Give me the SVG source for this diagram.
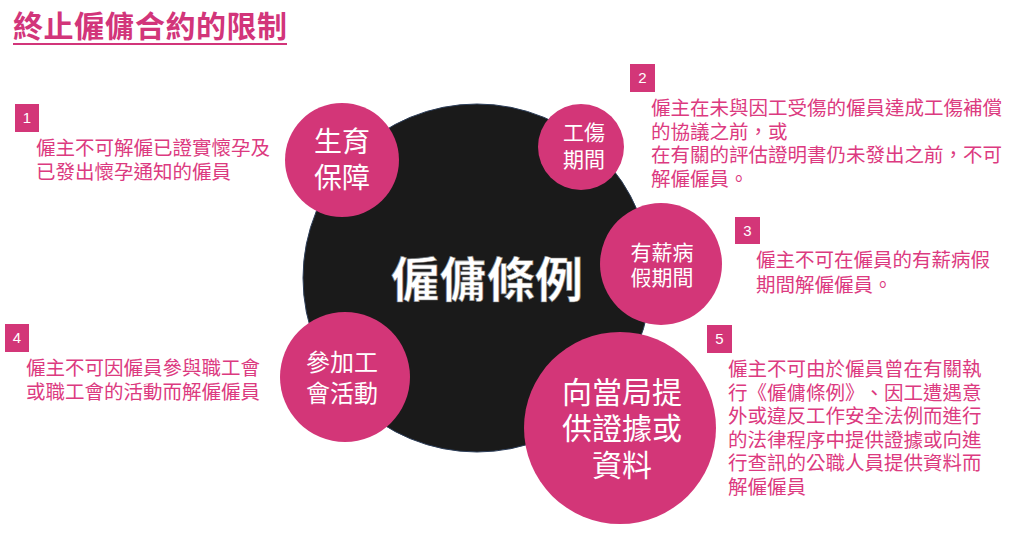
<svg xmlns="http://www.w3.org/2000/svg" width="1024" height="546" viewBox="0 0 1024 546">
<style>
.cj{font-family:"Noto Sans CJK TC","Noto Sans CJK SC",sans-serif;text-spacing-trim:space-all}
.desc{fill:#dc3a80;font-size:19.5px}
.bub{fill:#d33678}
.bt{fill:#ffffff;text-anchor:middle}
.box{fill:#d33678}
.num{fill:#ffffff;font-family:"Liberation Sans",sans-serif;font-size:15px;text-anchor:middle}
</style>
<rect width="1024" height="546" fill="#ffffff"/>
<g id="title">
<text x="13" y="37" class="cj" font-size="30" font-weight="bold" fill="#d2357a" textLength="274">終止僱傭合約的限制</text>
<rect x="13" y="43" width="274" height="2" fill="#d2357a"/>
</g>
<g id="center">
<circle cx="477" cy="278" r="174" fill="#1a1a1a" stroke="#2c3d58" stroke-width="1"/>
<text x="487" y="297" class="cj bt" font-size="48" font-weight="bold" stroke="#777" stroke-width="0.6">僱傭條例</text>
</g>
<g id="node1">
<circle cx="342" cy="160" r="57" class="bub"/>
<text x="342" y="152" class="cj bt" font-size="28">生育</text>
<text x="342" y="188" class="cj bt" font-size="28">保障</text>
</g>
<g id="node2">
<circle cx="581" cy="147" r="43" class="bub"/>
<text x="584" y="140" class="cj bt" font-size="21">工傷</text>
<text x="584" y="167" class="cj bt" font-size="21">期間</text>
</g>
<g id="node3">
<circle cx="661" cy="264" r="61" class="bub"/>
<text x="662" y="260" class="cj bt" font-size="21">有薪病</text>
<text x="662" y="285" class="cj bt" font-size="21">假期間</text>
</g>
<g id="node4">
<circle cx="345" cy="377" r="65" class="bub"/>
<text x="342" y="371" class="cj bt" font-size="24">參加工</text>
<text x="342" y="402" class="cj bt" font-size="24">會活動</text>
</g>
<g id="node5">
<circle cx="620" cy="428" r="96" class="bub"/>
<text x="622" y="403" class="cj bt" font-size="30">向當局提</text>
<text x="622" y="439" class="cj bt" font-size="30">供證據或</text>
<text x="622" y="476" class="cj bt" font-size="30">資料</text>
</g>
<g id="item1">
<rect x="15" y="104" width="24" height="28" class="box"/>
<text x="27" y="123" class="num">1</text>
<text class="cj desc"><tspan x="36" y="155">僱主不可解僱已證實懷孕及</tspan><tspan x="36" y="179">已發出懷孕通知的僱員</tspan></text>
</g>
<g id="item2">
<rect x="630" y="64" width="25" height="28" class="box"/>
<text x="642.5" y="83" class="num">2</text>
<text class="cj desc"><tspan x="651" y="115">僱主在未與因工受傷的僱員達成工傷補償</tspan><tspan x="651" y="138.5">的協議之前，或</tspan><tspan x="651" y="162">在有關的評估證明書仍未發出之前，不可</tspan><tspan x="651" y="185.5">解僱僱員。</tspan></text>
</g>
<g id="item3">
<rect x="735" y="217" width="25" height="27" class="box"/>
<text x="747.5" y="236" class="num">3</text>
<text class="cj desc"><tspan x="756" y="267">僱主不可在僱員的有薪病假</tspan><tspan x="756" y="292">期間解僱僱員。</tspan></text>
</g>
<g id="item4">
<rect x="5" y="324" width="24" height="28" class="box"/>
<text x="17" y="343" class="num">4</text>
<text class="cj desc"><tspan x="26" y="375">僱主不可因僱員參與職工會</tspan><tspan x="26" y="399">或職工會的活動而解僱僱員</tspan></text>
</g>
<g id="item5">
<rect x="707" y="325" width="25" height="28" class="box"/>
<text x="719.5" y="344" class="num">5</text>
<text class="cj desc"><tspan x="728" y="376">僱主不可由於僱員曾在有關執</tspan><tspan x="728" y="399.5" textLength="253.5">行《僱傭條例》、因工遭遇意</tspan><tspan x="728" y="423">外或違反工作安全法例而進行</tspan><tspan x="728" y="446.5">的法律程序中提供證據或向進</tspan><tspan x="728" y="470">行查訊的公職人員提供資料而</tspan><tspan x="728" y="493.5">解僱僱員</tspan></text>
</g>
</svg>
